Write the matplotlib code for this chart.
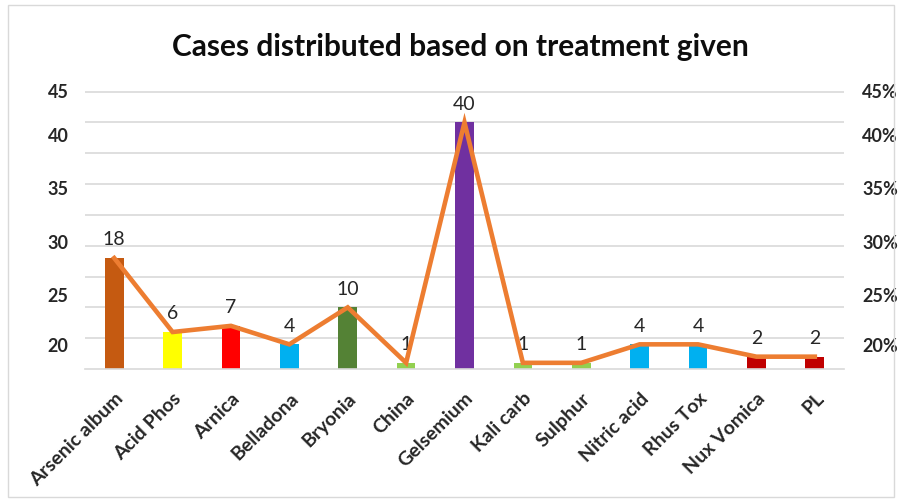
import matplotlib
matplotlib.use("Agg")
import matplotlib.pyplot as plt
from matplotlib.patches import Rectangle
import numpy as np

categories = ["Arsenic album", "Acid Phos", "Arnica", "Belladona", "Bryonia", "China",
              "Gelsemium", "Kali carb", "Sulphur", "Nitric acid", "Rhus Tox",
              "Nux Vomica", "PL"]
cases = [18, 6, 7, 4, 10, 1, 40, 1, 1, 4, 4, 2, 2]
bar_colors = ["#C55A11", "#FFFF00", "#FF0000", "#00B0F0", "#548235", "#92D050",
              "#7030A0", "#92D050", "#92D050", "#00B0F0", "#00B0F0", "#C00000", "#C00000"]
left_tick_labels = ["45", "40", "35", "30", "25", "20"]
right_tick_labels = ["45%", "40%", "35%", "30%", "25%", "20%"]
# where the (oddly placed) tick labels sit in the original, in count units
label_positions = [45.1, 37.9, 29.3, 20.6, 12.0, 3.9]

total = sum(cases)
pct = [c / total for c in cases]

plt.rcParams['font.family'] = ['Lato', 'DejaVu Sans']

fig = plt.figure(figsize=(9.02, 5.0), dpi=100)
fig.patches.append(Rectangle((8/902, 3/500), 886/902, 492/500, transform=fig.transFigure,
                             fill=False, edgecolor="#D9D9D9", linewidth=1))

ax = fig.add_axes([85/902, (500-369)/500, (844-85)/902, (369-91)/500])
x = np.arange(len(categories))
ax.set_ylim(0, 45)
ax.set_xlim(-0.5, len(categories) - 0.5)
for g in np.arange(5, 50, 5):
    ax.axhline(g, color="#D9D9D9", linewidth=1.2, zorder=0)
ax.bar(x, cases, width=0.32, color=bar_colors, zorder=2)
ax.set_yticks(label_positions)
ax.set_yticklabels(left_tick_labels, fontsize=13, fontweight='bold', color="#262626")
ax.tick_params(axis='y', length=0, pad=12)
for s in ["top", "right", "left"]:
    ax.spines[s].set_visible(False)
ax.spines["bottom"].set_color("#D9D9D9")
ax.spines["bottom"].set_linewidth(1.2)
ax.set_xticks(x)
ax.set_xticklabels(categories, rotation=45, ha='right', rotation_mode='anchor',
                   fontsize=14, fontweight='bold', color="#262626")
ax.tick_params(axis='x', length=0, pad=15)

for xi, v in zip(x, cases):
    ax.annotate(str(v), (xi, v), xytext=(0, 7), textcoords='offset points',
                ha='center', va='bottom', fontsize=14, color="#262626")

ax2 = ax.twinx()
ax2.plot(x, pct, color="#ED7D31", linewidth=3.3, zorder=3, solid_joinstyle='miter')
ax2.set_ylim(0, 0.45)
ax2.set_yticks([p / 100 for p in label_positions])
ax2.set_yticklabels(right_tick_labels, fontsize=13, fontweight='bold', color="#262626")
ax2.tick_params(axis='y', length=0, pad=13)
for s in ax2.spines.values():
    s.set_visible(False)

fig.text(460/902, 1 - 47/500, "Cases distributed based on treatment given",
         ha='center', va='center', fontsize=21.5, fontweight='bold', color="#0D0D0D")

fig.savefig("out.png", dpi=100)
